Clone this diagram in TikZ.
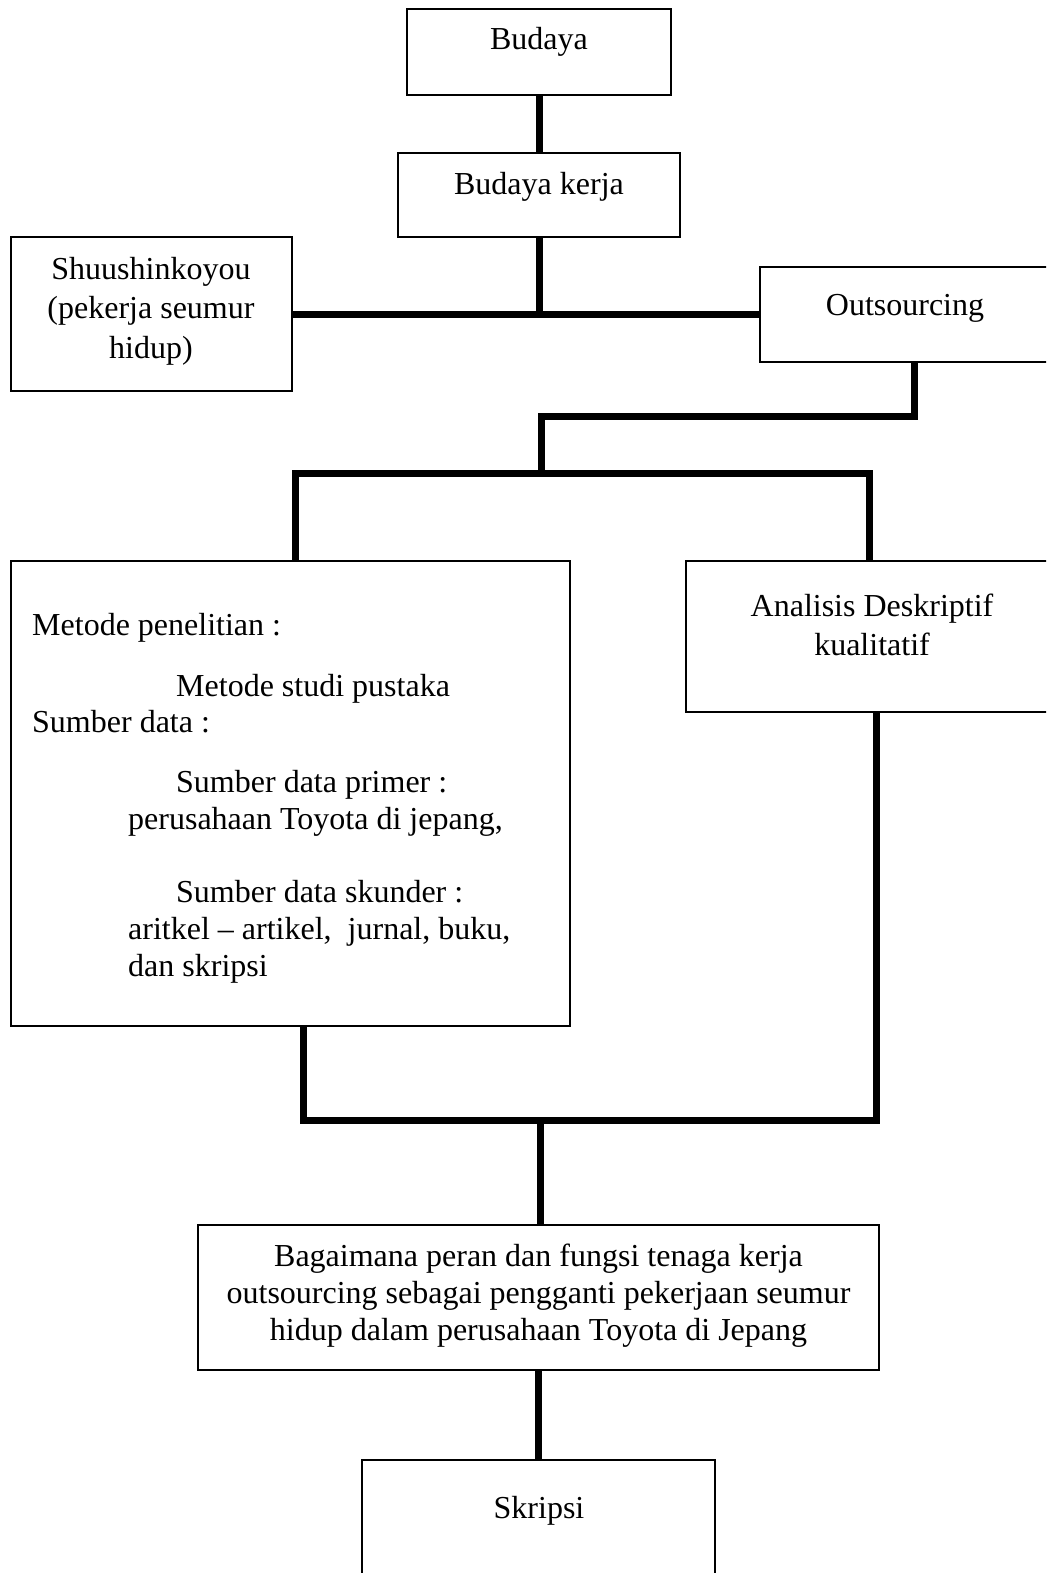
\documentclass[tikz,border=0pt]{standalone}
\usepackage{fontspec}
\setmainfont{Liberation Serif}
\begin{document}
\begin{tikzpicture}[x=1pt,y=-1pt,
  box/.style={draw, line width=2pt, anchor=north west, inner sep=0pt, outer sep=0pt},
  conn/.style={line width=7pt, line join=miter},
  txt/.style={font=\fontsize{32}{38}\selectfont, inner sep=0pt, anchor=base},
  txtl/.style={txt, anchor=base west}]
\useasboundingbox (0,0) rectangle (1046,1573);
\clip (0,0) rectangle (1046,1573);
\fill[white] (0,0) rectangle (1046,1573);

% boxes
\node[box, minimum width=264pt, minimum height=86pt]  (budaya)    at (407,9)    {};
\node[box, minimum width=282pt, minimum height=84pt]  (kerja)     at (398,153)  {};
\node[box, minimum width=281pt, minimum height=154pt] (shuu)      at (11,237)   {};
\node[box, minimum width=310pt, minimum height=95pt]  (outs)      at (760,267)  {};
\node[box, minimum width=559pt, minimum height=465pt] (metode)    at (11,561)   {};
\node[box, minimum width=384pt, minimum height=151pt] (analisis)  at (686,561)  {};
\node[box, minimum width=681pt, minimum height=145pt] (bagaimana) at (198,1225) {};
\node[box, minimum width=353pt, minimum height=140pt] (skripsi)   at (362,1460) {};

% connectors
\coordinate (split) at (541,473);
\coordinate (merge) at (540,1120);
\draw[conn] (budaya.south) -- (kerja.north);
\draw[conn] (shuu.east) -- (shuu.east -| outs.west);
\draw[conn] (kerja.south) -- (kerja.south |- shuu.east);
\draw[conn] ([xshift=154pt]outs.south west) -- ++(0,54) -| (split);
\draw[conn] ([xshift=284pt]metode.north west) |- (split) -| ([xshift=183pt]analisis.north west);
\draw[conn] ([xshift=292pt]metode.south west) |- (merge) -| ([xshift=190pt]analisis.south west);
\draw[conn] (merge) -- (merge |- bagaimana.north);
\draw[conn] (bagaimana.south) -- (bagaimana.south |- skripsi.north);

% texts
\node[txt] (budayaT) at (539,50) {Budaya};
\node[txt] (kerjaT)  at (539,195) {Budaya kerja};
\node[txt] (shuuT1)  at (151,279) {Shuushinkoyou};
\node[txt] (shuuT2)  at (151,318) {(pekerja seumur};
\node[txt] (shuuT3)  at (151,358) {hidup)};
\node[txt] (outsT)   at (905,315) {Outsourcing};
\node[txt] (anaT1)   at (872,616) {Analisis Deskriptif};
\node[txt] (anaT2)   at (872,655) {kualitatif};

\node[txtl] (met1) at (32,635)  {Metode penelitian :};
\node[txtl] (met2) at (176,696) {Metode studi pustaka};
\node[txtl] (met3) at (32,732)  {Sumber data :};
\node[txtl] (met4) at (176,792) {Sumber data primer :};
\node[txtl] (met5) at (128,829) {perusahaan Toyota di jepang,};
\node[txtl] (met6) at (176,902) {Sumber data skunder :};
\node[txtl] (met7) at (128,939) {aritkel – artikel,\ \ jurnal, buku,};
\node[txtl] (met8) at (128,976) {dan skripsi};

\node[txt] (bagT1) at (538.5,1266) {Bagaimana peran dan fungsi tenaga kerja};
\node[txt] (bagT2) at (538.5,1303) {outsourcing sebagai pengganti pekerjaan seumur};
\node[txt] (bagT3) at (538.5,1340) {hidup dalam perusahaan Toyota di Jepang};
\node[txt] (skripsiT) at (539,1518) {Skripsi};
\end{tikzpicture}
\end{document}
